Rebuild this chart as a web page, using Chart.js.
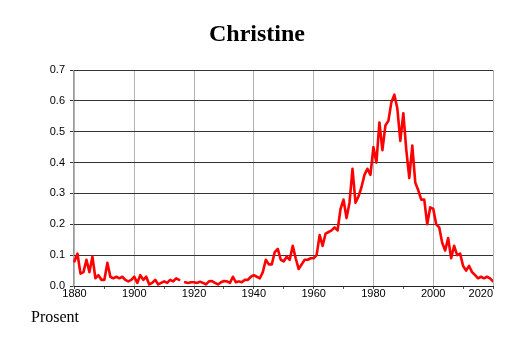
<!DOCTYPE html>
<html>
<head>
<meta charset="utf-8">
<script src="https://cdn.jsdelivr.net/npm/chart.js@4/dist/chart.umd.min.js"></script>
<style>
  body { margin: 0; background: #fff; }
  canvas { display: block; }
</style>
</head>
<body>
<canvas id="name-chart" width="514" height="343"></canvas>
<script>
// share of newborns named Christine, per year from 1880
var firstYear = 1880;
var shareValues = [
    0.08, 0.105, 0.04, 0.045, 0.085, 0.045, 0.095, 0.025, 0.035, 0.02,   // 1880s
    0.02, 0.075, 0.03, 0.025, 0.03, 0.025, 0.03, 0.02, 0.015, 0.02,      // 1890s
    0.03, 0.01, 0.035, 0.02, 0.03, 0.005, 0.01, 0.02, 0.005, 0.01,       // 1900s
    0.015, 0.01, 0.02, 0.015, 0.025, 0.02, null, 0.012, 0.01, 0.012,     // 1910s
    0.012, 0.01, 0.014, 0.01, 0.005, 0.015, 0.016, 0.01, 0.005, 0.012,   // 1920s
    0.016, 0.015, 0.01, 0.03, 0.012, 0.015, 0.012, 0.02, 0.02, 0.03,     // 1930s
    0.035, 0.03, 0.025, 0.045, 0.085, 0.07, 0.07, 0.11, 0.12, 0.085,     // 1940s
    0.08, 0.095, 0.085, 0.13, 0.09, 0.055, 0.07, 0.085, 0.085, 0.09,     // 1950s
    0.09, 0.1, 0.165, 0.13, 0.17, 0.175, 0.18, 0.19, 0.18, 0.25,         // 1960s
    0.28, 0.22, 0.27, 0.38, 0.27, 0.29, 0.32, 0.36, 0.38, 0.36,          // 1970s
    0.45, 0.4, 0.53, 0.44, 0.52, 0.535, 0.595, 0.62, 0.575, 0.47,        // 1980s
    0.56, 0.44, 0.35, 0.455, 0.335, 0.31, 0.28, 0.28, 0.2, 0.255,        // 1990s
    0.25, 0.2, 0.19, 0.14, 0.115, 0.155, 0.09, 0.13, 0.1, 0.105,         // 2000s
    0.065, 0.05, 0.065, 0.045, 0.035, 0.025, 0.03, 0.025, 0.03, 0.025,   // 2010s
    0.015                                                                // 2020
];
var xTickYears = [1880, 1890, 1900, 1910, 1920, 1930, 1940, 1950, 1960, 1970, 1980, 1990, 2000, 2010, 2020];
var xLabelYears = [1880, 1900, 1920, 1940, 1960, 1980, 2000, 2020];
var yTicks = [0, 0.1, 0.2, 0.3, 0.4, 0.5, 0.6, 0.7];

var points = shareValues.map(function(v, i) {
    return { x: firstYear + i, y: v };
});

var sansFont = { family: '"Liberation Sans", Arial, sans-serif', size: 11 };

var textPlugin = {
    id: 'textPlugin',
    afterDraw: function(chart) {
        var c = chart.ctx;
        c.save();
        c.fillStyle = '#000';
        c.textAlign = 'center';
        c.textBaseline = 'alphabetic';
        c.font = 'bold 24px "Liberation Serif", "Times New Roman", serif';
        c.fillText('Christine', 257, 41);
        c.textAlign = 'left';
        c.font = '16px "Liberation Serif", "Times New Roman", serif';
        c.fillText('Prosent', 31, 322);
        c.restore();
    }
};

var ctx = document.getElementById('name-chart').getContext('2d');
var chart = new Chart(ctx, {
    type: 'line',
    data: {
        datasets: [{
            data: points,
            borderColor: '#ff0000',
            borderWidth: 2.6,
            pointRadius: 0,
            tension: 0,
            spanGaps: false,
            borderJoinStyle: 'round',
            borderCapStyle: 'round'
        }]
    },
    options: {
        responsive: false,
        animation: false,
        layout: { padding: { left: 0, top: 70, right: 21, bottom: 0 } },
        scales: {
            x: {
                type: 'linear',
                min: 1879.5,
                max: 2020,
                afterBuildTicks: function(scale) {
                    // blank edge tick so that 'inner' only moves the last label
                    scale.ticks = [{ value: 1879.5 }].concat(xTickYears.map(function(v) { return { value: v }; }));
                },
                afterFit: function(scale) { scale.height = 57; },
                border: { color: '#222', width: 1 },
                grid: {
                    color: function(c) {
                        return c.tick && xLabelYears.indexOf(c.tick.value) >= 0 ? '#b4b4b4' : 'rgba(0,0,0,0)';
                    },
                    tickColor: function(c) {
                        return c.tick && c.tick.value === 1879.5 ? 'rgba(0,0,0,0)' : '#555';
                    },
                    tickLength: 3
                },
                ticks: {
                    autoSkip: false,
                    maxRotation: 0,
                    align: 'inner',
                    padding: -2,
                    color: '#000',
                    font: sansFont,
                    callback: function(value) {
                        return xLabelYears.indexOf(value) >= 0 ? String(value) : '';
                    }
                }
            },
            y: {
                min: 0,
                max: 0.7,
                afterBuildTicks: function(scale) {
                    scale.ticks = yTicks.map(function(v) { return { value: v }; });
                },
                afterFit: function(scale) { scale.width = 73; },
                border: { color: '#999', width: 1 },
                grid: { color: '#333', tickColor: '#333', tickLength: 3 },
                ticks: {
                    padding: 5,
                    color: '#000',
                    font: sansFont,
                    callback: function(value) { return value.toFixed(1); }
                }
            }
        },
        plugins: {
            legend: { display: false },
            tooltip: { enabled: false },
            title: { display: false }
        }
    },
    plugins: [textPlugin]
});
</script>
</body>
</html>
